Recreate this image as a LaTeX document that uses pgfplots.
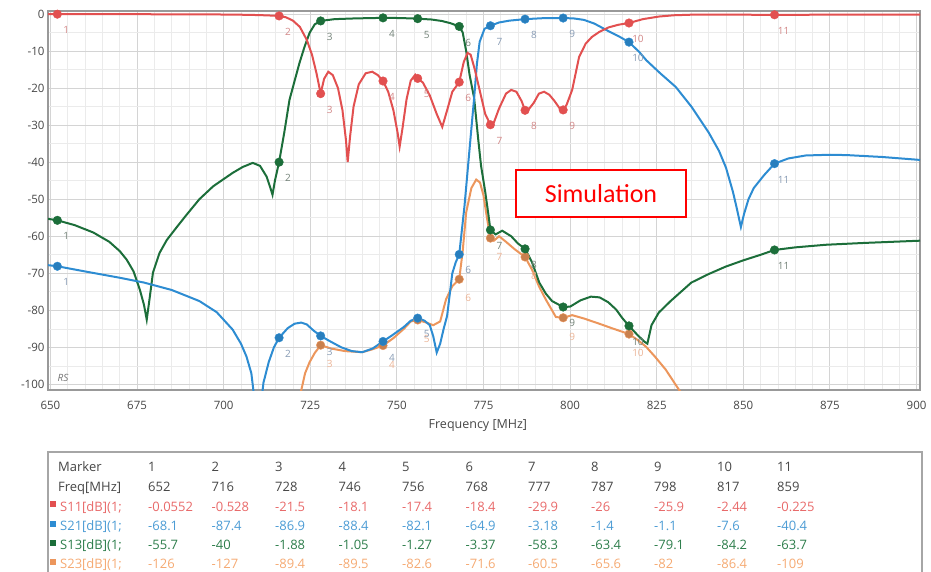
\documentclass[border=0pt]{standalone}
\usepackage{pgfplots}
\usepackage{pgfplotstable}
\pgfplotsset{compat=1.18}
\usepackage{fontspec}
\setmainfont{Open Sans}
\newfontfamily\calfont{Carlito}

\definecolor{cS11}{RGB}{226,80,80}
\definecolor{cS21}{RGB}{45,140,210}
\definecolor{cS13}{RGB}{28,110,58}
\definecolor{cS23}{RGB}{236,150,92}
\definecolor{lS11}{RGB}{210,135,135}
\definecolor{lS21}{RGB}{135,155,180}
\definecolor{lS13}{RGB}{115,130,120}
\definecolor{lS23}{RGB}{235,180,150}
\definecolor{tS11}{RGB}{232,105,105}
\definecolor{tS21}{RGB}{75,155,212}
\definecolor{tS13}{RGB}{45,125,75}
\definecolor{tS23}{RGB}{245,170,115}
\definecolor{txt}{RGB}{70,70,70}

% S11 (red)
\pgfplotstableread{
f db
649.3 -0.05
652 -0.055
670 -0.06
690 -0.1
700 -0.15
706 -0.22
710 -0.3
713 -0.4
716 -0.53
718 -0.9
720 -1.8
722 -3.5
724 -7
725.5 -11
726.8 -16
728 -21.5
729 -17.5
730.2 -15.6
731.5 -16.5
733 -20
734.3 -26
735.3 -34
735.8 -40
736.5 -33
737.5 -25
739 -19
741 -16
742.9 -15.6
744.5 -16.5
746 -18.1
747.5 -21
749 -26
750.2 -32
750.8 -35.8
751.6 -31
752.8 -23
754 -18
755.3 -16.4
756 -17.4
757.5 -18.5
759.5 -22
761.5 -27
763.1 -30.5
764.5 -26
766 -21
768 -18.4
769.3 -13
770.4 -10.5
771.3 -11
772.5 -15
774 -21
775.5 -27
777 -29.9
778 -29.3
779.5 -25.5
781.5 -21.5
783 -20.5
784.5 -21
786 -23.5
787 -26
788 -25.8
789.5 -24
791 -21.5
792.5 -21
794 -21.8
795.5 -23.5
797 -25.5
798 -25.9
799 -24.5
800.6 -20.5
802.6 -11.6
804.5 -8
806.3 -6.2
808.5 -4.8
811.2 -3.6
814 -2.9
817 -2.44
821 -1.4
825.6 -0.7
830 -0.35
835 -0.2
845 -0.2
859 -0.225
880 -0.2
901 -0.2
}\tabSoneone

% S21 (blue)
\pgfplotstableread{
f db
649.3 -67.8
652 -68.1
660 -69.5
670 -71.2
677 -72.5
685 -74.5
693 -77.5
698 -80.5
702.6 -85.2
705 -89
706.6 -92.5
708 -97
709.9 -112
711.5 -99.5
713 -94
714.5 -90
716 -87.4
718.5 -84.8
720.5 -83.6
722.4 -83.3
724 -83.8
726 -85.5
728 -86.9
731 -88.5
734 -90
737 -91
740 -91.3
743 -90.3
746 -88.4
749 -86.5
752 -84.5
754 -82.8
756 -82.1
758 -82.8
759.5 -84
760.5 -87
761.5 -91.4
762.5 -89
763.5 -85
764.5 -81.5
766 -70
767 -67
768 -64.9
769.5 -52
770.7 -39.4
771.5 -31
772.3 -22.7
773.1 -13.5
773.9 -7.5
775.3 -4
777 -3.18
779.5 -2.3
782.5 -1.8
787 -1.4
792 -1.15
798 -1.1
801 -1.2
804 -1.6
807 -2.6
811 -4.6
814 -6
817 -7.6
820 -10.3
822 -12.5
826 -16
830.5 -19.7
835 -25
840 -32
843 -37
845 -41.5
847 -48
848 -52
849.3 -57.5
850.2 -54
851.5 -50
853 -47
856 -43.5
859 -40.4
863 -39
868 -38.2
875 -38
880 -38.1
890 -38.6
901 -39.4
}\tabStwoone

% S13 (green)
\pgfplotstableread{
f db
649.3 -55.3
652 -55.7
657 -57
662.4 -59
667 -61.5
670 -64
672 -66.3
674 -69.5
675.8 -74.4
677 -78.5
677.8 -82.5
678.6 -77
679.6 -69.8
681.5 -64.5
683.6 -61
686.5 -57.5
689.3 -54.2
693 -50
697 -46.5
702.6 -42.9
705.5 -41.3
708.4 -40.2
710.5 -41
712.4 -43.9
713.5 -47
714.1 -48.8
714.8 -45
716 -40
717.5 -32
719 -23.2
720.5 -18
721.9 -13.2
723.3 -9
724.8 -5.1
726.3 -2.8
728 -1.88
732 -1.4
738 -1.2
746 -1.05
751 -1.1
756 -1.27
760 -1.5
763 -1.9
765.5 -2.5
768 -3.37
769 -5
770 -10
771 -16.5
772.3 -22.7
773.5 -34
774.3 -41
775.5 -48
776.4 -54
777 -58.3
778.5 -59.5
780.4 -58.5
783 -60
785 -62
787 -63.4
789 -67
791.1 -72.5
793 -75.5
794.8 -77.5
798 -79.1
800 -79
803 -77.3
806 -76.3
808.5 -76.5
811 -77.8
813.3 -79.8
815 -82
817 -84.2
819.5 -86.7
821.5 -88.5
822.3 -89
823.5 -84
825.6 -80.6
829 -77.5
835 -72.5
840 -70.2
844.9 -68.2
850 -66.5
855 -65
859 -63.7
865 -63
873.8 -62.3
885 -61.8
901 -61.2
}\tabSonethree

% S23 (orange)
\pgfplotstableread{
f db
722.3 -102
723.5 -97
724.8 -94
726.3 -91.5
728 -89.4
731 -90.3
735 -91
740 -91.3
743 -90.5
746 -89.5
749 -87.5
752 -85
754 -83
756 -82.6
758.5 -83.3
760.5 -84
762.5 -83
764.2 -77
766 -73.5
768 -71.6
769 -64
770 -53.6
771.5 -47
772.9 -44.7
774 -45.5
775 -49
776 -55
777 -60.5
778 -61.2
779.5 -60
781.5 -61.5
784 -63.5
787 -65.6
789 -69
791 -73.5
793 -77.1
795.9 -81.8
798 -82
800.6 -81.3
804 -82.2
808.4 -83.6
812 -84.8
817 -86.4
819.5 -88
821.9 -89.8
824.5 -92.5
827.6 -96
831.4 -101.4
833 -103.5
}\tabStwothree

\begin{document}
\begin{tikzpicture}
\path[use as bounding box] (0pt,0pt) rectangle (931pt,-572pt);
\begin{axis}[
    at={(48pt,-11pt)}, anchor=north west,
    scale only axis, width=872pt, height=379pt,
    xmin=649.3, xmax=901, ymin=-101.5, ymax=0.8,
    xtick={650,675,...,900},
    ytick={0,-10,...,-100},
    minor x tick num=4, minor y tick num=1,
    grid=both,
    major grid style={draw=black!17, line width=0.9pt},
    minor grid style={draw=black!8, line width=0.7pt},
    axis line style={draw=black!40, line width=1.6pt},
    tick style={draw=none},
    /pgf/number format/assume math mode=true,
    /pgf/number format/1000 sep={},
    tick label style={font=\fontsize{11.5}{13}\selectfont, text=txt},
    xticklabel style={yshift=-8pt},
    xlabel={Frequency [MHz]},
    xlabel style={at={(axis description cs:0.493,0)}, anchor=north, yshift=-26pt,
                  font=\fontsize{12.5}{14}\selectfont, text=txt},
    every node near coord/.append style={anchor=center, xshift=9pt, yshift=-16pt,
                  font=\fontsize{10}{12}\selectfont, inner sep=0pt},
]
\addplot[color=cS23, line width=2pt] table[x=f, y=db] {\tabStwothree};
\addplot[color=cS13, line width=2pt] table[x=f, y=db] {\tabSonethree};
\addplot[color=cS21, line width=2pt] table[x=f, y=db] {\tabStwoone};
\addplot[color=cS11, line width=2pt] table[x=f, y=db] {\tabSoneone};

\addplot[only marks, mark=*, mark size=4.3pt, color=cS23, fill=cS23!85!black,
    nodes near coords, point meta=explicit symbolic,
    every node near coord/.append style={text=lS23, yshift=-3pt}] coordinates {
    (728,-89.4) [3] (746,-89.5) [4] (756,-82.6) [5] (768,-71.6) [6]
    (777,-60.5) [7] (787,-65.6) [8] (798,-82) [9] (817,-86.4) [10]
};
\addplot[only marks, mark=*, mark size=4.3pt, color=cS13, fill=cS13,
    nodes near coords, point meta=explicit symbolic,
    every node near coord/.append style={text=lS13}] coordinates {
    (652,-55.7) [1] (716,-40) [2] (728,-1.88) [3] (746,-1.05) [4]
    (756,-1.27) [5] (768,-3.37) [6] (777,-58.3) [7] (787,-63.4) [8]
    (798,-79.1) [9] (817,-84.2) [10] (859,-63.7) [11]
};
\addplot[only marks, mark=*, mark size=4.3pt, color=cS21, fill=cS21!90!black,
    nodes near coords, point meta=explicit symbolic,
    every node near coord/.append style={text=lS21}] coordinates {
    (652,-68.1) [1] (716,-87.4) [2] (728,-86.9) [3] (746,-88.4) [4]
    (756,-82.1) [5] (768,-64.9) [6] (777,-3.18) [7] (787,-1.4) [8]
    (798,-1.1) [9] (817,-7.6) [10] (859,-40.4) [11]
};
\addplot[only marks, mark=*, mark size=4.3pt, color=cS11, fill=cS11,
    nodes near coords, point meta=explicit symbolic,
    every node near coord/.append style={text=lS11}] coordinates {
    (652,-0.0552) [1] (716,-0.528) [2] (728,-21.5) [3] (746,-18.1) [4]
    (756,-17.4) [5] (768,-18.4) [6] (777,-29.9) [7] (787,-26) [8]
    (798,-25.9) [9] (817,-2.44) [10] (859,-0.225) [11]
};
\end{axis}

% RS tag
\node[font=\fontsize{10}{12}\selectfont\itshape, text=black!55] at (63pt,-378pt) {RS};

% Simulation box
\draw[red, line width=1.5pt, fill=white] (516pt,-170pt) rectangle (686pt,-217pt);
\node[font=\calfont\fontsize{26}{30}\selectfont, text=red] at (601pt,-193.5pt) {Simulation};

% marker table
\draw[black!35, line width=1.2pt] (48pt,-452pt) rectangle (922pt,-600pt);
\begin{scope}[every node/.style={anchor=base west, inner sep=0pt, font=\fontsize{13}{15}\selectfont}]
\node[text=txt] at (58pt,-471.5pt) {Marker};
\node[text=txt] at (58pt,-491.5pt) {Freq[MHz]};
\fill[cS11] (50pt,-507pt) rectangle (56pt,-501pt);
\node[text=tS11] at (60pt,-511pt) {S11[dB](1;};
\fill[cS21] (50pt,-526.5pt) rectangle (56pt,-520.5pt);
\node[text=tS21] at (60pt,-530.5pt) {S21[dB](1;};
\fill[cS13] (50pt,-545.5pt) rectangle (56pt,-539.5pt);
\node[text=tS13] at (60pt,-549.5pt) {S13[dB](1;};
\fill[cS23] (50pt,-564.5pt) rectangle (56pt,-558.5pt);
\node[text=tS23] at (60pt,-568.5pt) {S23[dB](1;};
\foreach \x/\m/\fq/\a/\b/\c/\d in {
  148/1/652/-0.0552/-68.1/-55.7/-126,
  211.5/2/716/-0.528/-87.4/-40/-127,
  275/3/728/-21.5/-86.9/-1.88/-89.4,
  338.5/4/746/-18.1/-88.4/-1.05/-89.5,
  402/5/756/-17.4/-82.1/-1.27/-82.6,
  465.5/6/768/-18.4/-64.9/-3.37/-71.6,
  528/7/777/-29.9/-3.18/-58.3/-60.5,
  591/8/787/-26/-1.4/-63.4/-65.6,
  654/9/798/-25.9/-1.1/-79.1/-82,
  717/10/817/-2.44/-7.6/-84.2/-86.4,
  777/11/859/-0.225/-40.4/-63.7/-109}{
  \node[text=txt] at (\x pt,-471.5pt) {\m};
  \node[text=txt] at (\x pt,-491.5pt) {\fq};
  \node[text=tS11] at (\x pt,-511pt) {\a};
  \node[text=tS21] at (\x pt,-530.5pt) {\b};
  \node[text=tS13] at (\x pt,-549.5pt) {\c};
  \node[text=tS23] at (\x pt,-568.5pt) {\d};
}
\end{scope}
\end{tikzpicture}
\end{document}
